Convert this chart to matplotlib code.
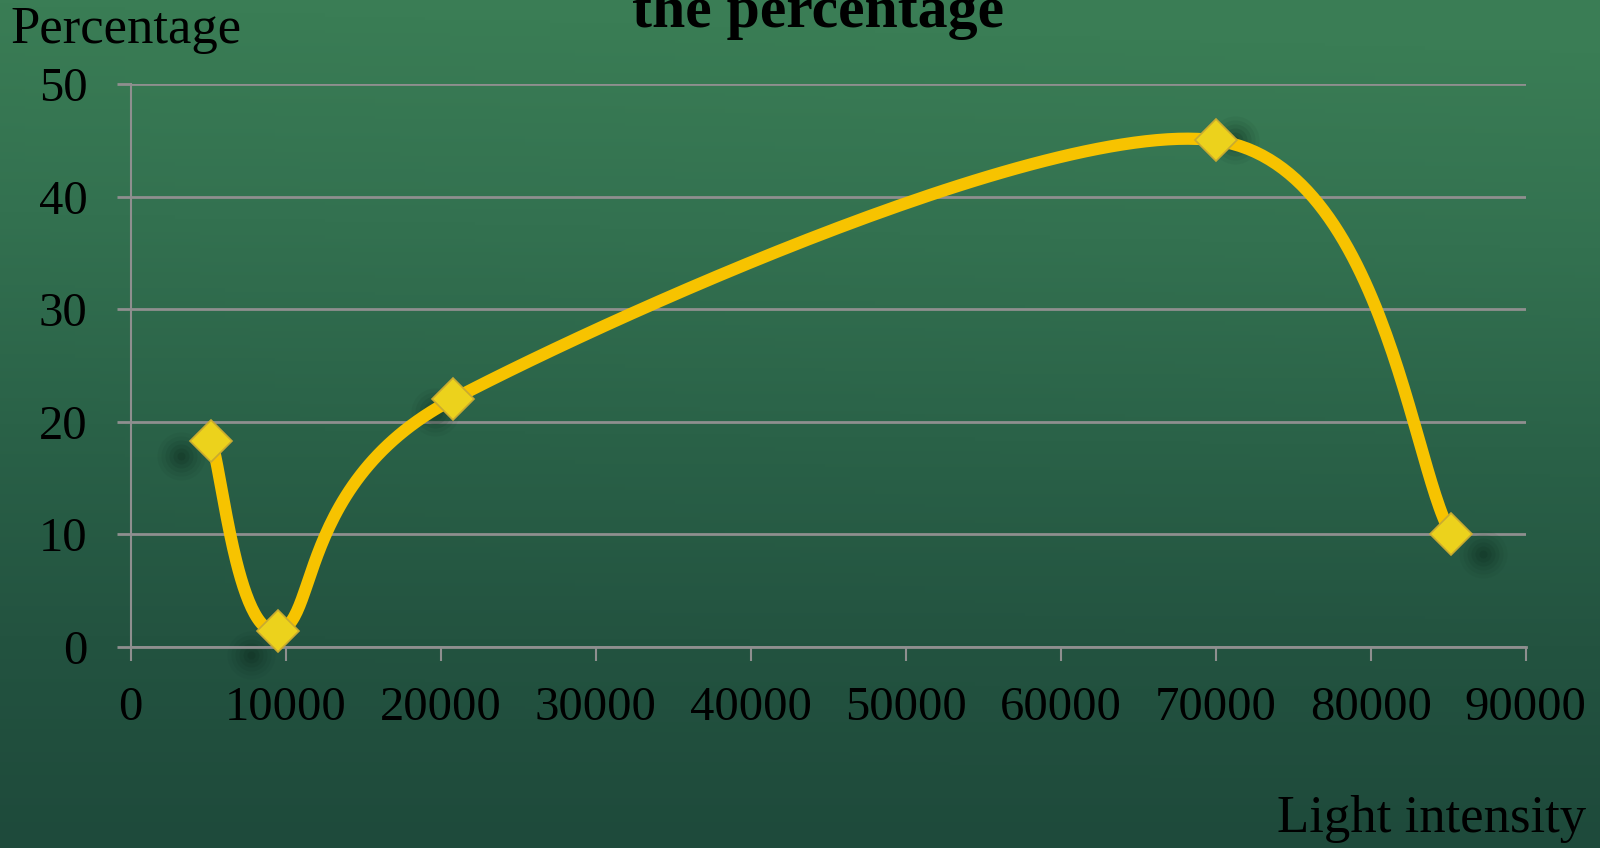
import numpy as np
import matplotlib
matplotlib.use("Agg")
import matplotlib.pyplot as plt
from matplotlib.colors import LinearSegmentedColormap

# ---- data ----
light_intensity = [5200, 9500, 20800, 70000, 85200]
percentage = [18.3, 1.4, 22.0, 45.0, 10.0]
x_ticks = [0, 10000, 20000, 30000, 40000, 50000, 60000, 70000, 80000, 90000]
y_ticks = [0, 10, 20, 30, 40, 50]
title = "the percentage"
x_label = "Light intensity"
y_label = "Percentage"


def excel_smooth(xs, ys, n=60):
    p = np.column_stack([xs, ys]).astype(float)
    out = []
    for i in range(len(p) - 1):
        p0 = p[i - 1] if i > 0 else p[i]
        p1 = p[i]
        p2 = p[i + 1]
        p3 = p[i + 2] if i + 2 < len(p) else p[i + 1]
        c1 = p1 + (p2 - p0) / 6.0
        c2 = p2 - (p3 - p1) / 6.0
        t = np.linspace(0, 1, n)[:, None]
        seg = ((1 - t) ** 3) * p1 + 3 * ((1 - t) ** 2) * t * c1 + 3 * (1 - t) * t ** 2 * c2 + t ** 3 * p2
        out.append(seg if i == 0 else seg[1:])
    s = np.vstack(out)
    return s[:, 0], s[:, 1]


W, H = 1600, 848
fig = plt.figure(figsize=(W / 100, H / 100), dpi=100)

# background gradient
bg = fig.add_axes([0, 0, 1, 1], zorder=-10)
bg.set_axis_off()
cmap = LinearSegmentedColormap.from_list(
    "board", ["#1e4a3b", "#235340", "#2a6248", "#337150", "#3a7d55"])
grad = np.linspace(0, 1, 256)[:, None] * np.ones((1, 64))
hor = np.linspace(0, 0.06, 64)[None, :] * np.linspace(0, 1, 256)[:, None]
bg.imshow(np.clip(grad + hor, 0, 1), cmap=cmap, aspect="auto", origin="lower",
          extent=[0, 1, 0, 1], vmin=0, vmax=1)
bg.set_xlim(0, 1)
bg.set_ylim(0, 1)

serif = ["Liberation Serif", "DejaVu Serif"]
ax = fig.add_axes([130.7 / W, 1 - 646.7 / H, (1525.7 - 130.7) / W, (646.7 - 84.2) / H])
ax.patch.set_alpha(0)
ax.set_xlim(0, 90000)
ax.set_ylim(0, 50)
ax.set_xticks(x_ticks)
ax.set_yticks(y_ticks)
ax.set_xticklabels([str(v) for v in x_ticks], fontfamily=serif, fontsize=35)
ax.set_yticklabels([str(v) for v in y_ticks], fontfamily=serif, fontsize=35)
grid_c = "#8f8f8f"
ax.grid(axis="y", color=grid_c, linewidth=2.0)
ax.set_axisbelow(True)
for s in ["top", "right"]:
    ax.spines[s].set_visible(False)
ax.spines["left"].set_color(grid_c)
ax.spines["left"].set_linewidth(1.5)
ax.spines["bottom"].set_color(grid_c)
ax.spines["bottom"].set_linewidth(2.0)
ax.tick_params(axis="x", direction="out", length=10, width=1.5, color=grid_c,
               labelcolor="black", pad=18)
ax.tick_params(axis="y", direction="out", length=10, width=2.0, color=grid_c,
               labelcolor="black", pad=21)

# shadows of markers (projected away from a light point)
fig.canvas.draw()
disp = ax.transData.transform(np.column_stack([light_intensity, percentage]))
light_pt = np.array([820.0, H - 141.0])
sh = light_pt + (disp - light_pt) * 1.05
sh_data = ax.transData.inverted().transform(sh)
for r, a in [(24, 0.06), (20, 0.08), (16, 0.1), (12, 0.13), (8, 0.16), (4, 0.2)]:
    ax.scatter(sh_data[:, 0], sh_data[:, 1], s=(r * 0.72 * 2) ** 2,
               color="#0d2a1e", alpha=a, linewidths=0, zorder=1, clip_on=False)

sx, sy = excel_smooth(light_intensity, percentage)
ax.plot(sx, sy, color="#f7c300", linewidth=8.8, solid_capstyle="butt", zorder=3,
        clip_on=False)
ax.plot(light_intensity, percentage, linestyle="none", marker="D", markersize=21,
        markerfacecolor="#ecd21c", markeredgecolor="#c9aa30", markeredgewidth=1.2,
        zorder=4, clip_on=False)

fig.text(818 / W, 1 - 27 / H, title, ha="center", va="baseline",
         fontfamily=serif, fontsize=43, fontweight="bold", color="black")
fig.text(10 / W, 1 - 43 / H, y_label, ha="left", va="baseline",
         fontfamily=serif, fontsize=38, color="black")
fig.text(1586 / W, 1 - 832 / H, x_label, ha="right", va="baseline",
         fontfamily=serif, fontsize=38, color="black")

fig.savefig("out.png", dpi=100)
